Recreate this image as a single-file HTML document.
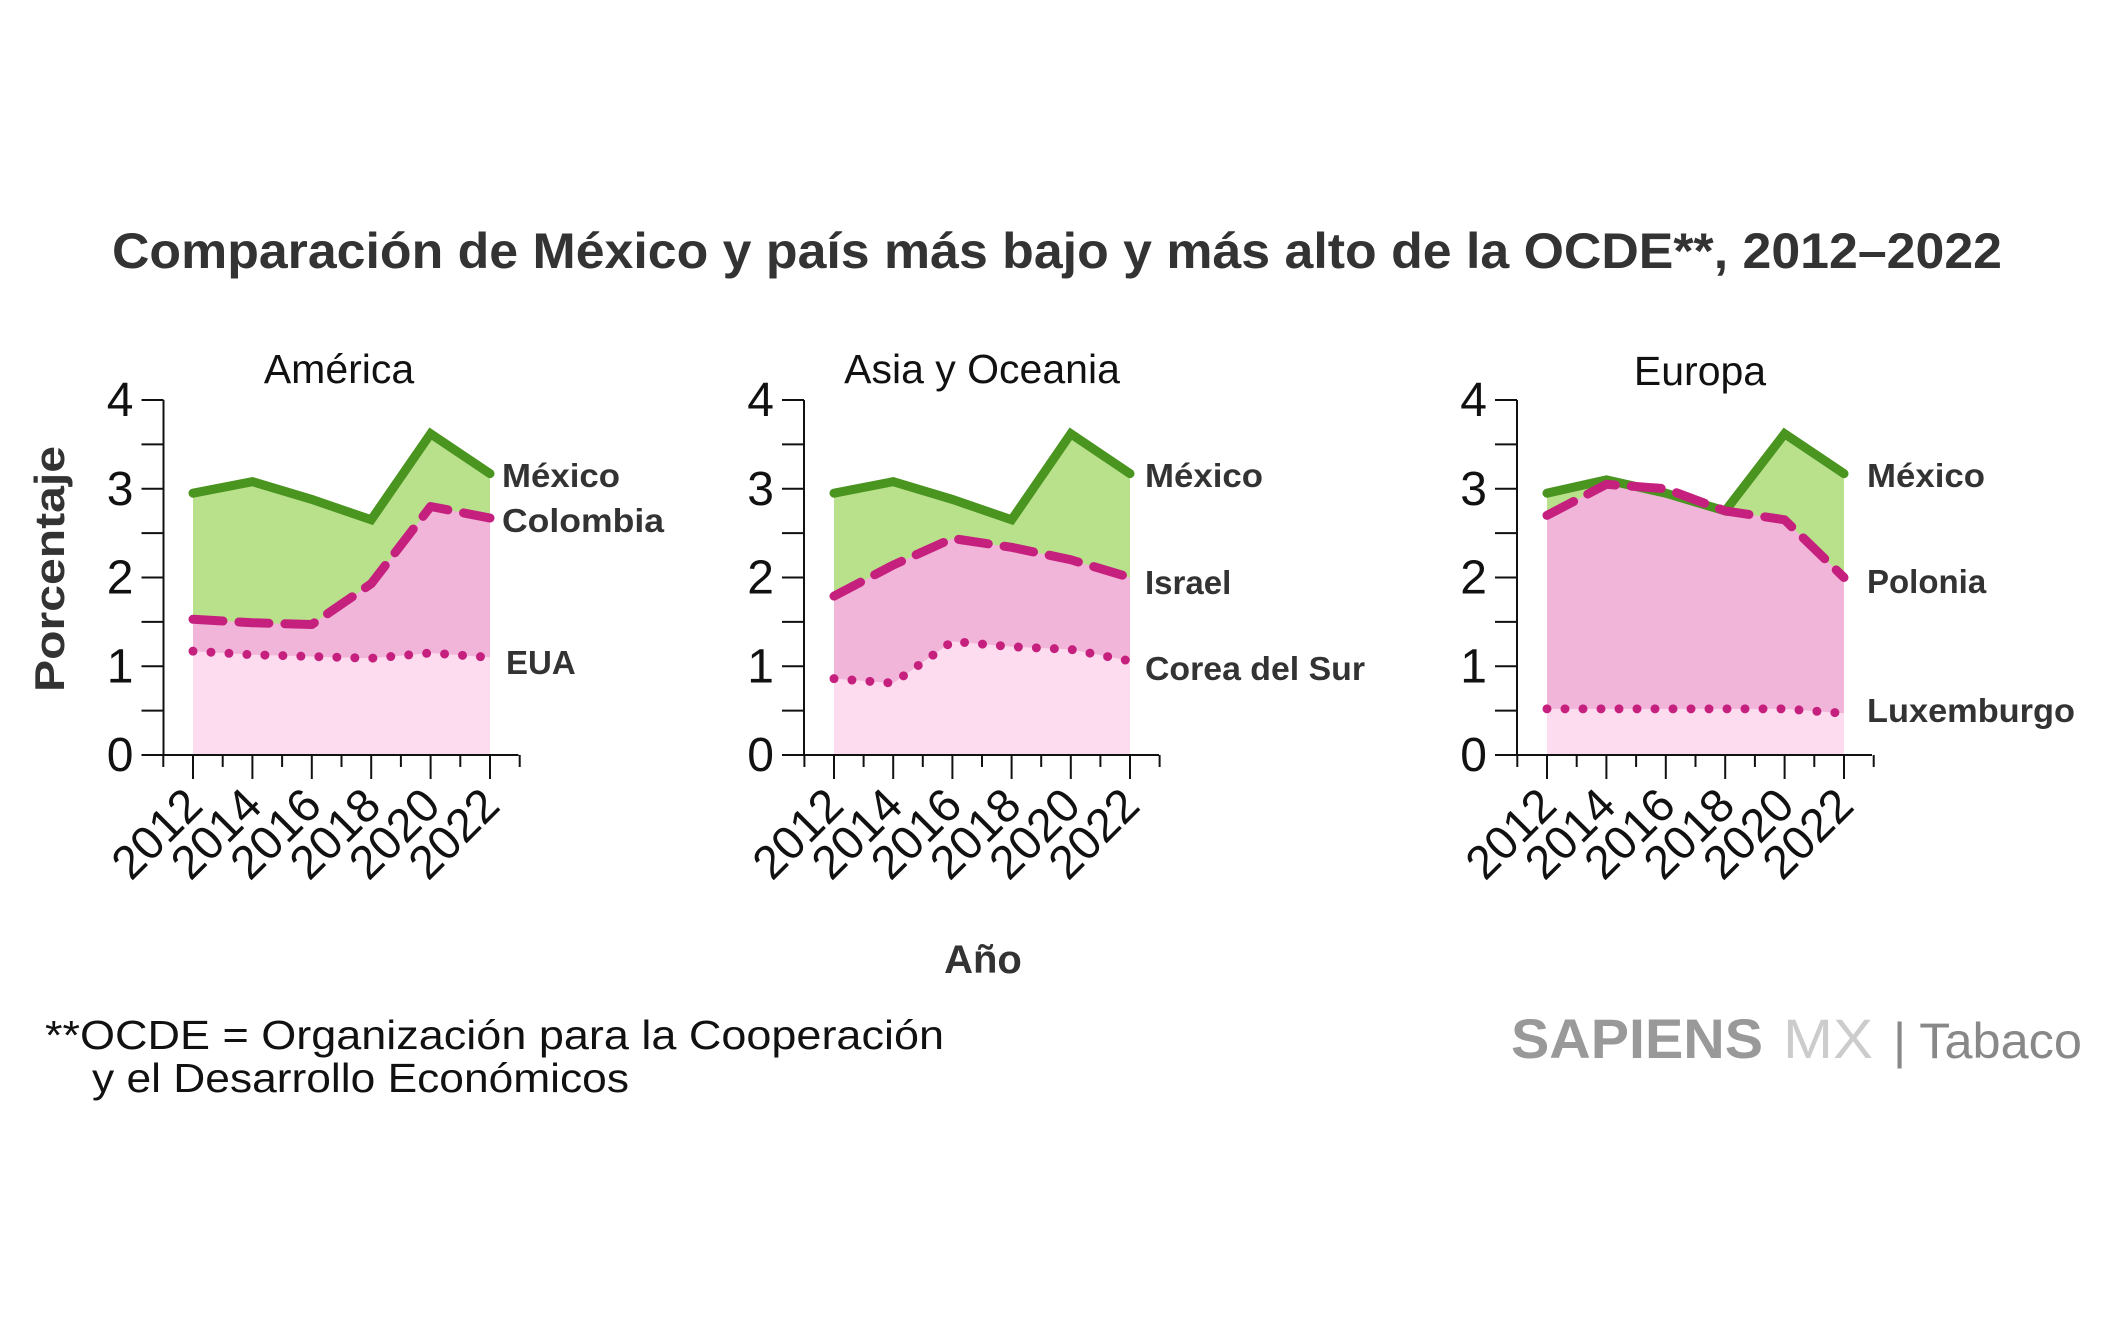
<!DOCTYPE html>
<html><head><meta charset="utf-8"><style>
html,body{margin:0;padding:0;background:#fff;}
svg{display:block;}
text{font-family:"Liberation Sans",sans-serif;}
</style></head><body>
<svg id="s" width="2105" height="1321" viewBox="0 0 2105 1321" xmlns="http://www.w3.org/2000/svg">
<rect width="2105" height="1321" fill="#fff"/>
<text x="1057" y="268" text-anchor="middle" font-size="50" font-weight="bold" fill="#333" textLength="1890" lengthAdjust="spacingAndGlyphs">Comparación de México y país más bajo y más alto de la OCDE**, 2012–2022</text>
<text x="339" y="383" text-anchor="middle" font-size="41" fill="#111">América</text>
<text x="982" y="383" text-anchor="middle" font-size="41" fill="#111">Asia y Oceania</text>
<text x="1700" y="385" text-anchor="middle" font-size="41" fill="#111">Europa</text>
<text transform="translate(64,569) rotate(-90)" text-anchor="middle" font-size="42" font-weight="bold" fill="#333" textLength="246" lengthAdjust="spacingAndGlyphs">Porcentaje</text>
<g id="charts"></g>
<g font-size="33" font-weight="bold" fill="#333">
<text x="502" y="487" textLength="118" lengthAdjust="spacingAndGlyphs">México</text>
<text x="502" y="532" textLength="162" lengthAdjust="spacingAndGlyphs">Colombia</text>
<text x="506" y="674">EUA</text>
<text x="1145" y="487" textLength="118" lengthAdjust="spacingAndGlyphs">México</text>
<text x="1145" y="594">Israel</text>
<text x="1145" y="680" textLength="220" lengthAdjust="spacingAndGlyphs">Corea del Sur</text>
<text x="1867" y="487" textLength="118" lengthAdjust="spacingAndGlyphs">México</text>
<text x="1867" y="593">Polonia</text>
<text x="1867" y="722" textLength="208" lengthAdjust="spacingAndGlyphs">Luxemburgo</text>
</g>
<text x="983" y="973" text-anchor="middle" font-size="40" font-weight="bold" fill="#333">Año</text>
<text x="45" y="1049" font-size="41" fill="#111" textLength="899" lengthAdjust="spacingAndGlyphs">**OCDE = Organización para la Cooperación</text>
<text x="92" y="1092" font-size="41" fill="#111" textLength="537" lengthAdjust="spacingAndGlyphs">y el Desarrollo Económicos</text>
<text x="1511" y="1058" font-size="56" font-weight="bold" fill="#999" textLength="252" lengthAdjust="spacingAndGlyphs">SAPIENS</text>
<text x="1783" y="1058" font-size="56" fill="#ccc" textLength="90" lengthAdjust="spacingAndGlyphs">MX</text>
<text x="1893" y="1058" font-size="50" fill="#888" textLength="189" lengthAdjust="spacingAndGlyphs">| Tabaco</text>
</svg>
<script>
var g=document.getElementById('charts');var NS='http://www.w3.org/2000/svg';
function el(t,a){var e=document.createElementNS(NS,t);for(var k in a)e.setAttribute(k,a[k]);g.appendChild(e);return e;}
var Y0=755,U=88.75;function Y(v){return Y0-U*v;}
var panels=[
 {ax:163.5,x0:193,x1:490,
  mex:[2.95,3.08,2.88,2.65,3.62,3.17],mid:[1.53,1.49,1.47,1.93,2.8,2.67],low:[1.17,1.13,1.11,1.09,1.15,1.1]},
 {ax:804,x0:834,x1:1130,
  mex:[2.95,3.08,2.88,2.65,3.62,3.17],mid:[1.79,2.14,2.44,2.34,2.2,2.0],low:[0.86,0.81,1.28,1.22,1.19,1.06]},
 {ax:1517,x0:1547,x1:1844,
  mex:[2.95,3.1,2.95,2.75,3.62,3.17],mid:[2.7,3.05,3.0,2.75,2.65,2.0],low:[0.52,0.52,0.52,0.52,0.52,0.47]}
];
panels.forEach(function(p){
 var st=(p.x1-p.x0)/10;
 function X(i){return p.x0+i*2*st;}
 function pts(a){return a.map(function(v,i){return X(i)+','+Y(v);}).join(' ');}
 function area(a,c){el('polygon',{points:X(0)+','+Y0+' '+pts(a)+' '+X(5)+','+Y0,fill:c});}
 area(p.mex,'#b9e18c');area(p.mid,'#f1b5d9');area(p.low,'#fcdcee');
 el('polyline',{points:pts(p.mex),fill:'none',stroke:'#4a9420','stroke-width':9,'stroke-linejoin':'miter','stroke-linecap':'round'});
 el('polyline',{points:pts(p.mid),fill:'none',stroke:'#c6207f','stroke-width':9,'stroke-dasharray':'30 16','stroke-linecap':'round','stroke-linejoin':'round'});
 el('polyline',{points:pts(p.low),fill:'none',stroke:'#c6207f','stroke-width':9,'stroke-dasharray':'0 18','stroke-linecap':'round','stroke-linejoin':'round'});
 el('line',{x1:p.ax,y1:Y(4),x2:p.ax,y2:Y0,stroke:'#111','stroke-width':2});
 el('line',{x1:p.ax-22,y1:Y0,x2:p.ax+355,y2:Y0,stroke:'#111','stroke-width':2});
 for(var k=0;k<=8;k++){el('line',{x1:p.ax-22,y1:Y(k/2),x2:p.ax,y2:Y(k/2),stroke:'#111','stroke-width':2});}
 for(var k=0;k<=4;k++){var t=el('text',{x:p.ax-30,y:Y(k)+16,'text-anchor':'end','font-size':48,fill:'#111'});t.textContent=k;}
 for(var i=-1;i<=11;i++){var x=p.x0+i*st;var maj=(i>=0&&i<=10&&i%2==0);
  el('line',{x1:x,y1:Y0,x2:x,y2:maj?779:767,stroke:'#111','stroke-width':2});}
 for(var i=0;i<6;i++){var x=X(i)+12;var t=el('text',{x:0,y:0,'text-anchor':'end','font-size':47,fill:'#111',transform:'translate('+x+',808) rotate(-45)'});t.textContent=2012+2*i;}
});
</script>
</body></html>
